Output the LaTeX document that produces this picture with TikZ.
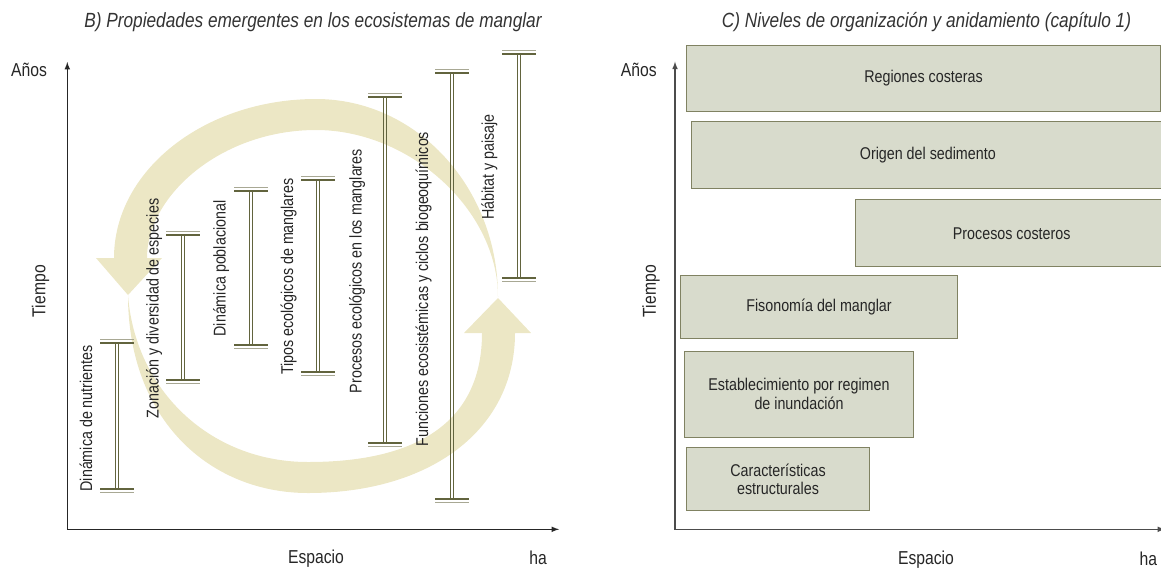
\documentclass[tikz,border=0pt]{standalone}
\usepackage{fontspec}
\setmainfont{Liberation Sans}[FakeStretch=0.84]
\usetikzlibrary{arrows, positioning, calc}

\definecolor{oliva}{RGB}{98,100,62}
\definecolor{olivaclara}{RGB}{168,168,148}
\definecolor{crema}{RGB}{236,231,197}
\definecolor{salvia}{RGB}{216,219,204}
\definecolor{bordecaja}{RGB}{128,130,98}

\begin{document}
\begin{tikzpicture}[
  x=0.025cm, y=-0.025cm, font=\fontsize{12.1}{13.5}\selectfont,
  > = latex,
  eje/.style = {<->, line width=0.8pt},
  titulo/.style = {font=\fontsize{14.6}{16}\selectfont\itshape, text=black!80},
  rotulo/.style = {font=\fontsize{13.3}{15}\selectfont, text=black!85},
  etiq/.style = {rotate=90, anchor=base west, inner sep=0pt, text=black!85},
  caja/.style = {draw=bordecaja, fill=salvia, line width=0.7pt, align=center, inner sep=0pt, text=black!85}
  ]
  \useasboundingbox (0,0) rectangle (1161,568);

  % B) propiedades emergentes
  \node[titulo] (tituloB) at (313,22) {B) Propiedades emergentes en los ecosistemas de manglar};
  \fill[crema] (498,297) .. controls (498,188) and (417,99) .. (316,99)
    .. controls (205,99) and (114,170) .. (114,258) -- (96,258) -- (128,295) -- (162,258) -- (147,258)
    .. controls (147,195) and (222,130) .. (316,130) .. controls (410,130) and (498,210) .. cycle;
  \fill[crema] (128,295) .. controls (128,420) and (210,493) .. (308,493)
    .. controls (430,493) and (515,430) .. (515,333) -- (531,333) -- (498,298) -- (464,333) -- (482,333)
    .. controls (482,420) and (420,462) .. (308,462) .. controls (210,462) and (135,390) .. cycle;

  \foreach \x/\t/\b in {117/343/489, 183/235/380, 251/191/345, 318/180/372, 385/97/443, 452/73/499, 519/54/278}
  {
    \draw[oliva, line width=0.6pt] (\x-1.8,\t) -- (\x-1.8,\b) (\x+1.8,\t) -- (\x+1.8,\b);
    \draw[oliva, line width=0.8pt] (\x-17,\t) -- (\x+17,\t) (\x-17,\b) -- (\x+17,\b);
    \draw[olivaclara, line width=0.8pt] (\x-17,\t-3.3) -- (\x+17,\t-3.3) (\x-17,\b+3.3) -- (\x+17,\b+3.3);
  }
  \foreach \x/\y/\txt [count=\i] in {86.5/491.7/Dinámica de nutrientes,
      153/418.3/Zonación y diversidad de especies, 220/336.7/Dinámica poblacional,
      287.7/375/Tipos ecológicos de manglares, 356/393.3/Procesos ecológicos en los manglares,
      422.7/446.7/Funciones ecosistémicas y ciclos biogeoquímicos, 488.3/220/Hábitat y paisaje}
    \node[etiq] (nivel\i) at (\x+5.5,\y) {\txt};

  \coordinate (@yB) at (67.3,62);
  \coordinate (@xB) at (559,529.3);
  \draw[eje, black!85] (@yB) |- (@xB);
  \node[rotulo] (anosB) at (29,69.5) {Años};
  \node[rotulo, rotate=90, anchor=west] (tiempoB) at (40.5,322) {Tiempo};
  \node[rotulo] (espacioB) at (316,558.3) {Espacio};
  \node[rotulo] (haB) at (538,558) {ha};

  % C) niveles de organizacion
  \node[titulo] (tituloC) at (926.5,22) {C) Niveles de organización y anidamiento (capítulo 1)};
  \coordinate (@yC) at (675,61.7);
  \coordinate (@xC) at (1165,529.3);
  \draw[eje, black!70] (@yC) |- (@xC);
  \node[rotulo] (anosC) at (638.7,70) {Años};
  \node[rotulo, rotate=90, anchor=west] (tiempoC) at (651,322) {Tiempo};
  \node[rotulo] (espacioC) at (926,559.3) {Espacio};
  \node[rotulo] (haC) at (1148.3,559) {ha};

  \node[caja, minimum width=11.83cm, minimum height=1.66cm] (regiones) at (923.5,78.2) {Regiones costeras};
  \node[caja, minimum width=11.81cm, minimum height=1.66cm] (origen) at (927.8,154.8) {Origen del sedimento};
  \node[caja, minimum width=7.79cm, minimum height=1.67cm] (procesos) at (1011.7,233.3) {Procesos costeros};
  \node[caja, minimum width=6.94cm, minimum height=1.59cm] (fisonomia) at (819,306.8) {Fisonomía del manglar};
  \node[caja, minimum width=5.74cm, minimum height=2.15cm] (establec) at (799,394.3) {Establecimiento por regimen\\de inundación};
  \node[caja, minimum width=4.59cm, minimum height=1.58cm] (caract) at (778,479.3) {Características\\estructurales};
\end{tikzpicture}
\end{document}
